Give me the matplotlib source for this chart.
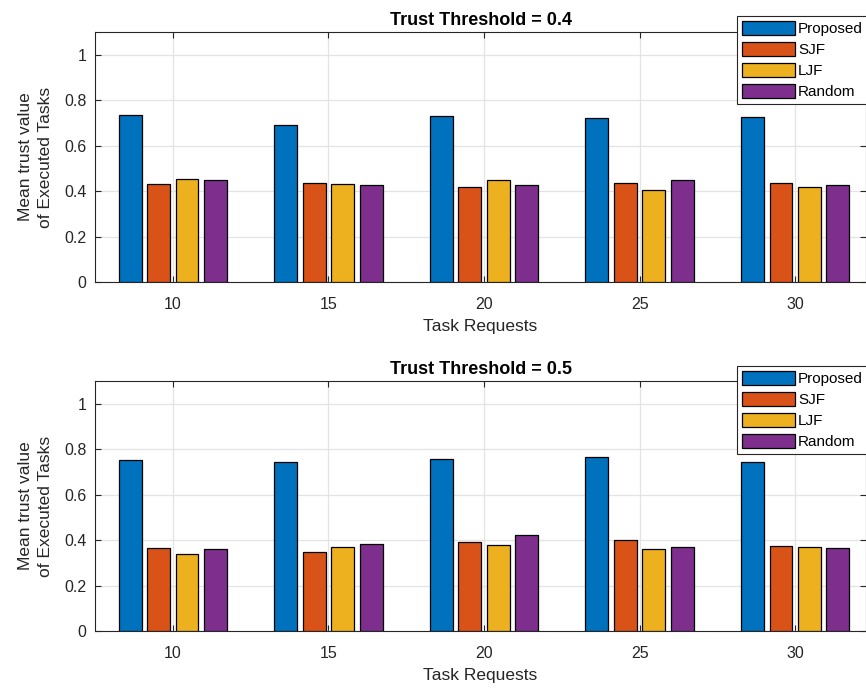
import numpy as np
from matplotlib import pyplot as plt

plt.rcParams["font.family"] = ["Liberation Sans", "DejaVu Sans"]
plt.rcParams["font.size"] = 10

# 数据
task_requests = [10, 15, 20, 25, 30]
methods = ["Proposed", "SJF", "LJF", "Random"]
colors = ["#0072BD", "#D95319", "#EDB120", "#7E2F8E"]

# 信任阈值 = 0.4
proposed_04 = [0.733, 0.692, 0.731, 0.722, 0.725]
sjf_04 = [0.430, 0.435, 0.417, 0.435, 0.435]
ljf_04 = [0.455, 0.433, 0.451, 0.404, 0.416]
random_04 = [0.449, 0.427, 0.426, 0.449, 0.426]

# 信任阈值 = 0.5
proposed_05 = [0.753, 0.744, 0.757, 0.766, 0.743]
sjf_05 = [0.366, 0.349, 0.390, 0.400, 0.374]
ljf_05 = [0.341, 0.371, 0.378, 0.363, 0.368]
random_05 = [0.363, 0.381, 0.423, 0.369, 0.365]

panels = [
    ("Trust Threshold = 0.4", [proposed_04, sjf_04, ljf_04, random_04]),
    ("Trust Threshold = 0.5", [proposed_05, sjf_05, ljf_05, random_05]),
]

W, H = 866, 689
fig = plt.figure(figsize=(W / 100, H / 100), dpi=100)

ax_boxes = [(95, 32, 866, 282), (95, 381, 866, 631)]  # 像素: 左, 上, 右, 下
legend_tops = [16, 366]

x = np.arange(1, len(task_requests) + 1)
step = 0.183
width = 0.147
offsets = (np.arange(len(methods)) - 1.5) * step
dark = "#262626"

for (title, series), (l, t, r, b), lt in zip(panels, ax_boxes, legend_tops):
    ax = fig.add_axes([l / W, 1 - b / H, (r - l) / W, (b - t) / H])
    for vals, c, name, off in zip(series, colors, methods, offsets):
        ax.bar(x + off, vals, width, color=c, edgecolor="black", linewidth=0.9,
               label=name, zorder=3)
    ax.set_xlim(0.5, 5.455)
    ax.set_ylim(0, 1.1)
    ax.set_xticks(x)
    ax.set_xticklabels(task_requests)
    ax.set_yticks(np.arange(0, 1.01, 0.2))
    ax.set_yticklabels(["0", "0.2", "0.4", "0.6", "0.8", "1"])
    ax.grid(True, color="#e3e3e3", linewidth=0.9, zorder=0)
    ax.tick_params(direction="in", top=True, right=True, length=4,
                   colors=dark, labelsize=11.5, labelcolor=dark)
    ax.tick_params(axis="x", pad=11)
    ax.tick_params(axis="y", pad=6)
    for s in ax.spines.values():
        s.set_color(dark)
        s.set_linewidth(0.8)
    ax.set_xlabel("Task Requests", fontsize=12.5, color=dark, labelpad=5)
    ax.set_ylabel("Mean trust value\nof Executed Tasks", fontsize=12.5,
                  color=dark, labelpad=8, linespacing=1.45)
    ax.set_title(title, fontsize=13, fontweight="bold", pad=5)
    leg = ax.legend(loc="upper left", bbox_to_anchor=(737 / W, 1 - lt / H),
                    bbox_transform=fig.transFigure, fontsize=11,
                    fancybox=False, framealpha=1, edgecolor=dark,
                    handlelength=3.5, handleheight=1.05, handletextpad=0.2,
                    labelspacing=0.38, borderpad=0.3, borderaxespad=0)
    leg.get_frame().set_linewidth(0.8)
    leg.set_zorder(10)

fig.savefig("out.png", dpi=100)
